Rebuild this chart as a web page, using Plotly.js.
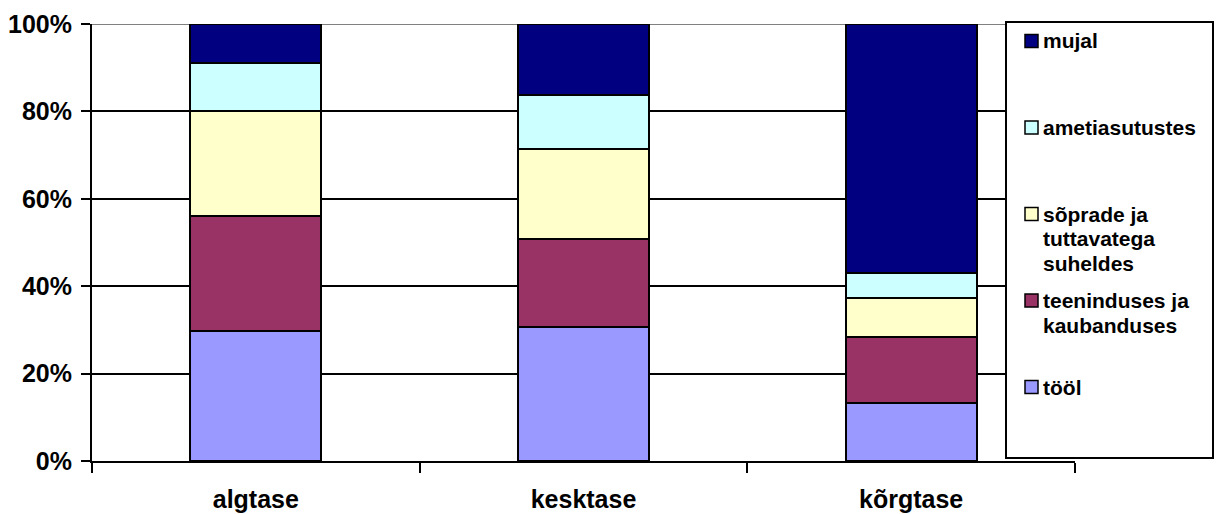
<!DOCTYPE html>
<html><head><meta charset="utf-8">
<script src="https://cdn.plot.ly/plotly-3.0.1.min.js"></script>
<style>html,body{margin:0;padding:0;background:#fff}#chart{width:1216px;height:514px}</style>
</head><body><div id="chart"></div>
<script>
// ---- data ----
const categories = ['algtase', 'kesktase', 'kõrgtase'];
const seriesNames = ['tööl', 'teeninduses ja<br>kaubanduses', 'sõprade ja<br>tuttavatega<br>suheldes', 'ametiasutustes', 'mujal'];
const seriesColors = ['#9999FF', '#993366', '#FFFFCC', '#CCFFFF', '#000080'];
const tool = [29.8, 30.7, 13.3];
const teenindus = [26.2, 20.2, 15.0];
const sobrad = [24.1, 20.6, 9.0];
const ametiasutused = [10.9, 12.2, 5.7];
const mujal = [9.0, 16.3, 57.0];
const seriesValues = [tool, teenindus, sobrad, ametiasutused, mujal];
const yTickVals = [0, 20, 40, 60, 80, 100];
const yTickText = ['0%', '20%', '40%', '60%', '80%', '100%'];

// ---- geometry ----
const W = 1216, H = 514;
const M = {l: 92, r: 141, t: 24, b: 53};
const PW = W - M.l - M.r, PH = H - M.t - M.b;
const px = x => (x - M.l) / PW;
const py = y => (H - M.b - y) / PH;
const FONT = '"Liberation Sans", Arial, sans-serif';

const traces = seriesValues.map((vals, i) => ({
  type: 'bar',
  x: categories,
  y: vals,
  name: seriesNames[i],
  width: 0.4,
  marker: {color: seriesColors[i], line: {color: '#000', width: 2}},
  showlegend: false,
  hoverinfo: 'skip'
}));

const shapes = [
  {type: 'line', xref: 'paper', yref: 'y', x0: 0, x1: 1, y0: 100, y1: 100,
   line: {color: '#808080', width: 2}, layer: 'between'},
  {type: 'rect', xref: 'paper', yref: 'paper', x0: px(1006), x1: px(1213), y0: py(458), y1: py(22),
   fillcolor: '#fff', line: {color: '#000', width: 2}, layer: 'above'}
];
const annotations = [];
const order = [4, 3, 2, 1, 0];
order.forEach((si, k) => {
  const cy = 41 + 86.5 * k;
  shapes.push({type: 'rect', xref: 'paper', yref: 'paper', x0: px(1025), x1: px(1038),
    y0: py(cy + 6.5), y1: py(cy - 6.5), fillcolor: seriesColors[si],
    line: {color: '#000', width: 1.5}, layer: 'above'});
  seriesNames[si].split('<br>').forEach((ln, j) => {
    annotations.push({xref: 'paper', yref: 'paper', x: px(1041), y: py(cy + 24.5 * j),
      xanchor: 'left', yanchor: 'middle', showarrow: false, text: ln,
      font: {family: FONT, size: 21, weight: 'bold', color: '#000'}});
  });
});

const layout = {
  width: W, height: H,
  margin: M,
  paper_bgcolor: '#fff', plot_bgcolor: '#fff',
  barmode: 'stack',
  showlegend: false,
  font: {family: FONT, size: 25, weight: 'bold', color: '#000'},
  xaxis: {
    type: 'category', range: [-0.5, 2.5],
    showline: true, linecolor: '#000', linewidth: 2,
    ticks: 'outside', tickson: 'boundaries', ticklen: 10, tickwidth: 2, tickcolor: '#000',
    showgrid: false, zeroline: false,
    ticklabelstandoff: 15,
    tickfont: {family: FONT, size: 25, weight: 'bold', color: '#000'}
  },
  yaxis: {
    range: [0, 100], tickvals: yTickVals, ticktext: yTickText,
    showline: true, linecolor: '#000', linewidth: 2,
    ticks: 'outside', ticklen: 9, tickwidth: 2, tickcolor: '#000',
    showgrid: true, gridcolor: '#000', gridwidth: 2, zeroline: false,
    ticklabelstandoff: 4,
    tickfont: {family: FONT, size: 25, weight: 'bold', color: '#000'}
  },
  shapes: shapes,
  annotations: annotations
};

Plotly.newPlot('chart', traces, layout, {displayModeBar: false, staticPlot: true});
</script>
</body></html>
